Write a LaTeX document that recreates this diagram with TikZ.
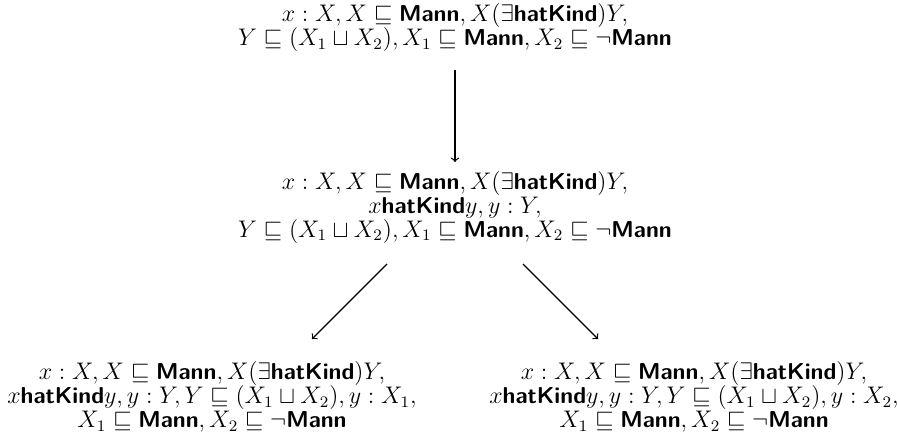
\documentclass[tikz,border=0pt]{standalone}
\usepackage{amsmath,amssymb}
\usetikzlibrary{calc}
\newcommand{\cname}[1]{\textsf{\textbf{#1}}}
\begin{document}
\begin{tikzpicture}[x=0.5pt,y=-0.5pt,
  state/.style={align=center,inner sep=0pt,font=\fontsize{11.5}{12}\selectfont},
  step arrow/.style={->,line width=0.6pt}]
\useasboundingbox (0,0) rectangle (897,433);
\node[state] (top) at (455,28)
  {$x:X, X\sqsubseteq\cname{Mann}, X(\exists\cname{hatKind})Y,$\\
   $Y\sqsubseteq(X_1\sqcup X_2), X_1\sqsubseteq\cname{Mann}, X_2\sqsubseteq\neg\cname{Mann}$};
\node[state] (mid) at (455,207)
  {$x:X, X\sqsubseteq\cname{Mann}, X(\exists\cname{hatKind})Y,$\\
   $x\cname{hatKind}y, y:Y,$\\
   $Y\sqsubseteq(X_1\sqcup X_2), X_1\sqsubseteq\cname{Mann}, X_2\sqsubseteq\neg\cname{Mann}$};
\node[state] (left) at (212,397)
  {$x:X, X\sqsubseteq\cname{Mann}, X(\exists\cname{hatKind})Y,$\\
   $x\cname{hatKind}y, y:Y, Y\sqsubseteq(X_1\sqcup X_2), y:X_1,$\\
   $X_1\sqsubseteq\cname{Mann}, X_2\sqsubseteq\neg\cname{Mann}$};
\node[state] (right) at (694,397)
  {$x:X, X\sqsubseteq\cname{Mann}, X(\exists\cname{hatKind})Y,$\\
   $x\cname{hatKind}y, y:Y, Y\sqsubseteq(X_1\sqcup X_2), y:X_2,$\\
   $X_1\sqsubseteq\cname{Mann}, X_2\sqsubseteq\neg\cname{Mann}$};
\draw[step arrow] ($(top)+(0,42)$) -- ($(mid)+(0,-45)$);
\draw[step arrow] ($(mid)+(-68,57)$) -- ($(left)+(100,-58)$);
\draw[step arrow] ($(mid)+(68,57)$) -- ($(right)+(-96,-58)$);
\end{tikzpicture}
\end{document}
